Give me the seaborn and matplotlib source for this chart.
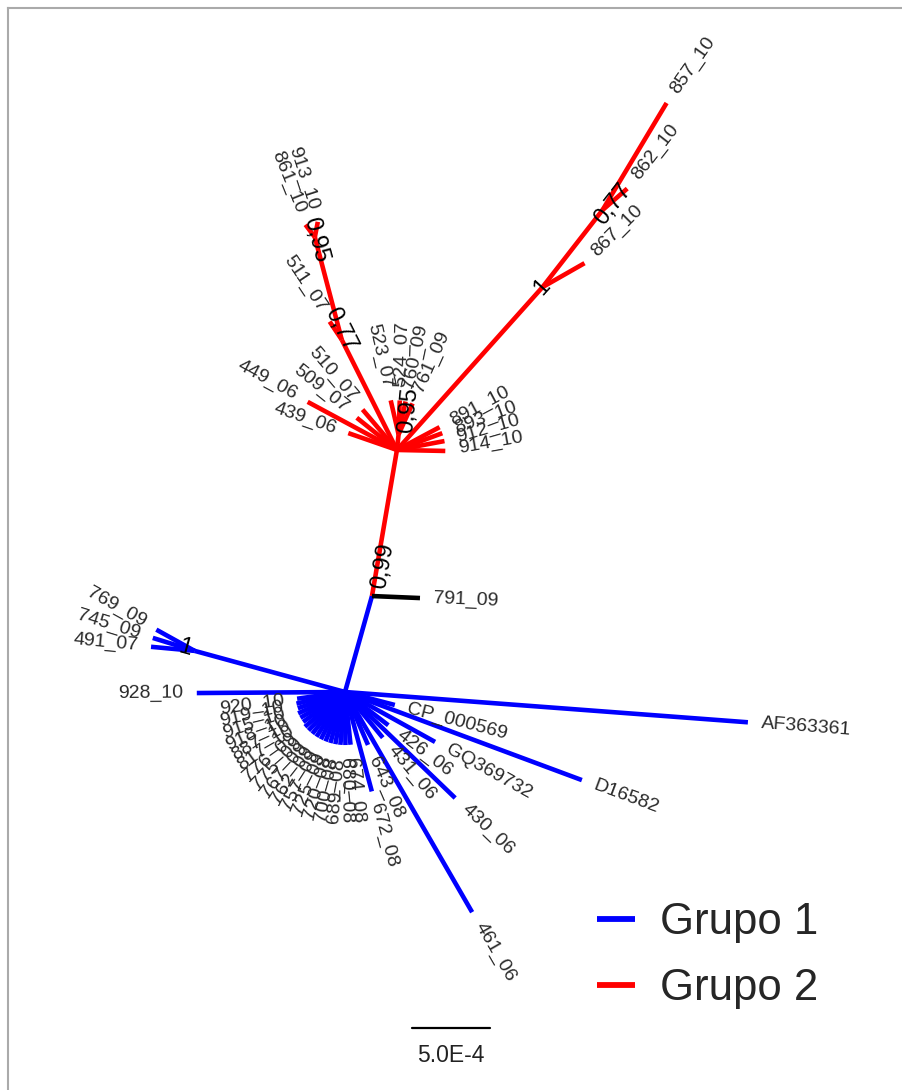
""" Unrooted tree, Grupo 1 / Grupo 2 """

import numpy as np
import pandas as pd
import seaborn as sns
import matplotlib.pyplot as plt

# ---- tree data (branch length in units of 1e-4 subst./site, angle in degrees) ----
nodes = ["N1", "791_09", "R", "A", "867_10", "B", "857_10", "862_10",
         "C", "511_07", "D", "913_10", "861_10",
         "449_06", "439_06", "509_07", "510_07",
         "E", "523_07", "524_07", "760_09", "761_09",
         "891_10", "893_10", "912_10", "914_10",
         "928_10", "F", "769_09", "745_09", "491_07",
         "AF363361", "D16582", "430_06", "461_06", "GQ369732", "CP_000569",
         "426_06", "431_06", "643_08", "672_08",
         "920_10", "919_10", "915_10", "918_10", "887_10", "817_10",
         "776_09", "775_09", "767_09", "762_09", "757_09", "725_09",
         "720_08", "700_08", "689_08", "680_08", "674_08"]
parents = ["H", "N1", "N1", "R", "A", "A", "B", "B",
           "R", "C", "C", "D", "D",
           "R", "R", "R", "R",
           "R", "E", "E", "E", "E",
           "R", "R", "R", "R",
           "H", "H", "F", "F", "F",
           "H", "H", "H", "H", "H", "H",
           "H", "H", "H", "H",
           "H", "H", "H", "H", "H", "H",
           "H", "H", "H", "H", "H", "H",
           "H", "H", "H", "H", "H"]
lengths = [6.39, 3.08, 9.5, 14.0, 3.1, 6.26, 8.0, 2.1,
           7.9, 1.4, 6.8, 1.0, 1.0,
           6.5, 3.3, 3.3, 3.4,
           1.0, 2.24, 2.18, 2.16, 2.18,
           3.1, 3.1, 3.1, 3.1,
           9.5, 10.0, 2.8, 2.8, 2.8,
           25.9, 16.2, 9.8, 16.3, 6.6, 3.3,
           3.5, 3.8, 3.7, 6.6,
           3.1, 3.2, 3.2, 3.3, 3.3, 3.3,
           3.4, 3.4, 3.4, 3.4, 3.4, 3.4,
           3.4, 3.4, 3.4, 3.4, 3.4]
angles = [74.3, -2.4, 80.3, 48.2, 29.7, 52.1, 59.1, 41.0,
          116.6, 123.7, 104.7, 79.0, 127.0,
          151.7, 160.9, 141.3, 130.4,
          84.0, 103.0, 88.0, 78.0, 65.7,
          28.1, 20.3, 10.6, -1.2,
          180.4, 164.7, 151.0, 162.8, 174.7,
          -4.3, -20.4, -43.9, -60.0, -29.0, -14.6,
          -37.5, -50.4, -66.5, -74.9,
          -172.0, -166.5, -161.0, -155.5, -150.0, -144.5,
          -139.0, -133.5, -128.0, -122.5, -117.0, -111.5,
          -106.0, -100.5, -95.0, -89.5, -84.0]
groups = ["Grupo 1", "otro"] + ["Grupo 2"] * 24 + ["Grupo 1"] * 32

# label direction where it differs from the branch
label_angle = {"867_10": 45, "862_10": 52, "857_10": 55, "913_10": 108,
               "861_10": 112, "912_10": 16, "914_10": 10}

# support values: node, text, shift along branch, shift across (units)
supports = [("R", "0,99", -7.5, 0.4), ("E", "0,95", 1.6, 0.45),
            ("C", "0,77", 0.6, 0.2), ("D", "0,95", -0.2, 0.0),
            ("A", "1", 0.0, 0.0), ("B", "0,77", 0.7, 0.3),
            ("F", "1", 0.6, 0.0)]

PX = 15.6                      # pixels per 1e-4
root = (345 / PX, 398 / PX)

sns.set_theme(style="white")
plt.rcParams['font.family'] = ['Liberation Sans', 'DejaVu Sans']

pos = {"H": np.array(root)}
direction = {}
for name, par, L, a in zip(nodes, parents, lengths, angles):
    d = np.array([np.cos(np.radians(a)), np.sin(np.radians(a))])
    pos[name] = pos[par] + L * d
    direction[name] = a

rows = []
for name, par, g in zip(nodes, parents, groups):
    for p in (pos[par], pos[name]):
        rows.append({"x": p[0], "y": p[1], "seg": name, "grupo": g})
segs = pd.DataFrame(rows)

fig = plt.figure(figsize=(9.03, 10.9), dpi=100)
ax = fig.add_axes([8 / 903, 0, 895 / 903, 1082 / 1090])

sns.lineplot(data=segs[segs.grupo != "otro"], x="x", y="y", units="seg",
             estimator=None, sort=False, hue="grupo",
             palette={"Grupo 1": "#0000ff", "Grupo 2": "#ff0000"},
             linewidth=3.3, ax=ax)
sns.lineplot(data=segs[segs.grupo == "otro"], x="x", y="y", units="seg",
             estimator=None, sort=False, color="black", linewidth=3.3, ax=ax)
for ln in ax.get_lines():
    ln.set_solid_capstyle("butt")

# tip labels
children = set(parents)
for name in nodes:
    if name in children:
        continue
    a = label_angle.get(name, direction[name])
    d = np.array([np.cos(np.radians(a)), np.sin(np.radians(a))])
    p = pos[name] + 0.85 * d
    a_n = (a + 180) % 360 - 180
    if -90 <= a_n <= 90:
        rot, ha = a_n, "left"
    else:
        rot, ha = a_n - 180 if a_n > 0 else a_n + 180, "right"
    ax.text(p[0], p[1], name, rotation=rot, ha=ha, va="center",
            rotation_mode="anchor", fontsize=14, color="#2a2a2a")

# support values
for name, txt, along, across in supports:
    a = direction[name]
    d = np.array([np.cos(np.radians(a)), np.sin(np.radians(a))])
    n = np.array([d[1], -d[0]])
    p = pos[name] + along * d + across * n
    a_n = (a + 180) % 360 - 180
    rot = a_n if -90 <= a_n <= 90 else (a_n - 180 if a_n > 0 else a_n + 180)
    ax.text(p[0], p[1], txt, rotation=rot, ha="center", va="center",
            rotation_mode="anchor", fontsize=17, color="black")

# scale bar 5.0E-4
bar = pd.DataFrame({"x": [412 / PX, 412 / PX + 5], "y": [62 / PX, 62 / PX]})
sns.lineplot(data=bar, x="x", y="y", color="black", linewidth=1.6, ax=ax)
ax.text(412 / PX + 2.5, 35 / PX, "5.0E-4", ha="center", va="center",
        fontsize=16.5, color="#222222")

handles, labels = ax.get_legend_handles_labels()
for h in handles:
    h.set_linewidth(4.2)
ax.legend(handles[:2], labels[:2], loc="upper left",
          bbox_to_anchor=(597 / 903, 1 - 902 / 1090), bbox_transform=fig.transFigure,
          frameon=False, fontsize=31.5, handlelength=0.87, handletextpad=0.57,
          labelspacing=0.57, borderpad=0, borderaxespad=0)

ax.set_xlim(8 / PX, 903 / PX)
ax.set_ylim(0, 1082 / PX)
ax.set_xticks([])
ax.set_yticks([])
ax.set_xlabel("")
ax.set_ylabel("")
for side in ("right", "bottom"):
    ax.spines[side].set_visible(False)
for side in ("left", "top"):
    ax.spines[side].set_visible(True)
    ax.spines[side].set_color("#aaaaaa")
    ax.spines[side].set_linewidth(1.5)

fig.savefig("out.png", dpi=100)
